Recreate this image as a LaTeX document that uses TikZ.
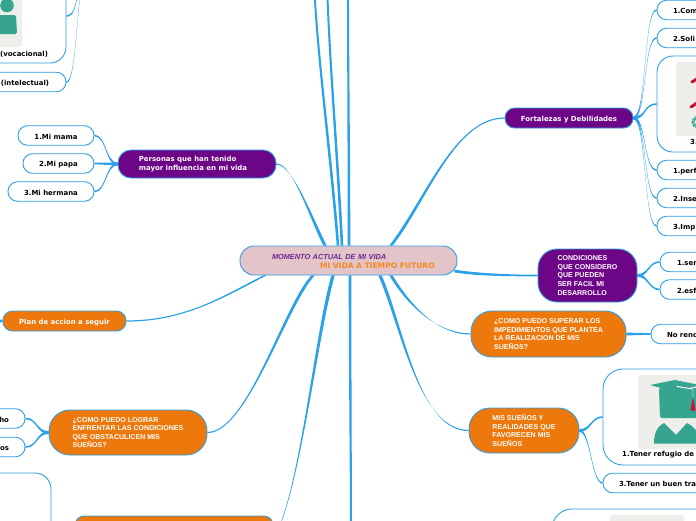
\documentclass[tikz,border=0pt]{standalone}
\usepackage{fontspec}
\setmainfont{DejaVu Sans}
\newfontfamily\libfont{Liberation Sans}
\usetikzlibrary{calc}
\definecolor{edge}{HTML}{2F9FE3}
\definecolor{linkc}{HTML}{2BA2E8}
\definecolor{purp}{HTML}{6C0586}
\definecolor{oran}{HTML}{ED780C}
\definecolor{rose}{HTML}{E3C4C9}
\definecolor{ptext}{HTML}{6B2A90}
\definecolor{otext}{HTML}{F28A1E}
\definecolor{tilec}{HTML}{EEEFEB}
\definecolor{tealc}{HTML}{35A58F}
\definecolor{redt}{HTML}{C8103A}
\newcommand\fdj{\fontsize{6.95}{9}\selectfont\bfseries}
\newcommand\flib{\libfont\fontsize{7.05}{8.6}\selectfont\bfseries}
\newcommand\taper[6]{\fill[linkc] ($#1+#5$) .. controls ($#1+#5+#3$) and ($#2+#6+#4$) .. ($#2+#6$) -- ($#2-#6$) .. controls ($#2-#6+#4$) and ($#1-#5+#3$) .. ($#1-#5$) -- cycle;}
\newcommand\cl[4]{\taper{#1}{#2}{#3}{#4}{(1.7,0)}{(0,.6)}}
\newcommand\cv[4]{\taper{#1}{#2}{#3}{#4}{(1.3,0)}{(.95,0)}}
\newcommand\br[4]{\taper{#1}{#2}{#3}{#4}{(0,1.4)}{(0,.8)}}
\tikzset{
 box/.style={draw=edge,line width=.9pt,inner sep=0pt,align=left,execute at begin node={\rule{0pt}{7.5pt}}},
 leaf/.style={box,fill=white,rounded corners=9.5pt,minimum height=19.5pt,font=\fdj,text=black},
 ppl/.style={box,fill=purp,text=white},
 org/.style={box,fill=oran,text=white},
 bigb/.style={box,fill=white},
 captxt/.style={inner sep=0pt,font=\fdj,text=black},
}
\begin{document}
\begin{tikzpicture}[x=1pt,y=-1pt]
\useasboundingbox (0,0) rectangle (696,520);
\clip (0,0) rectangle (696,520);
\fill[white] (0,0) rectangle (696,520);
% central
\node[box,fill=rose,rounded corners=14pt,minimum width=217pt,minimum height=29pt,inner xsep=10pt,text width=197pt,font=\fontsize{7.35}{9}\selectfont\bfseries] (cen) at (348.5,260.5)
 {{\libfont\itshape\color{ptext}\hspace*{22pt}MOMENTO ACTUAL DE MI VIDA}\\
  {\fontsize{7.6}{9}\selectfont\color{otext}\hspace*{70pt}MI VIDA A TIEMPO FUTURO}};
% branches
\node[ppl,rounded corners=13pt,minimum width=158pt,minimum height=28pt,font=\fdj] (pers) at (197,164) {Personas que han tenido\\mayor influencia en mi vida\hspace*{8pt}};
\node[ppl,rounded corners=9.5pt,minimum width=128pt,minimum height=20pt,font=\fdj] (fort) at (569,118) {Fortalezas y Debilidades};
\node[ppl,rounded corners=19pt,minimum width=99pt,minimum height=53pt,font=\flib] (cond) at (587.5,275.5) {CONDICIONES\\QUE CONSIDERO\\QUE PUEDEN\\SER FACIL MI\\DESARROLLO};
\node[org,rounded corners=21pt,minimum width=155pt,minimum height=46pt,font=\flib] (sup) at (548.5,334) {¿COMO PUEDO SUPERAR LOS\\IMPEDIMIENTOS QUE PLANTEA\\LA REALIZACION DE MIS\\SUEÑOS?};
\node[org,rounded corners=21pt,minimum width=110pt,minimum height=45pt,font=\flib] (mis) at (524,430.5) {MIS SUEÑOS Y\\REALIDADES QUE\\FAVORECEN MIS\\SUEÑOS};
\node[org,rounded corners=9.5pt,minimum width=123pt,minimum height=20pt,font=\fdj] (plan) at (64.5,321) {Plan de accion a seguir};
\node[org,rounded corners=21pt,minimum width=158pt,minimum height=45pt,font=\flib] (log) at (128,432.5) {¿COMO PUEDO LOGRAR\\ENFRENTAR LAS CONDICIONES\\QUE OBSTACULICEN MIS\\SUEÑOS?};
\node[org,rounded corners=9pt,minimum width=198pt,minimum height=48pt] (low) at (174,540) {};
% left leaves
\node[leaf,minimum width=76pt] (mama) at (56,135.5) {1.Mi mama};
\node[leaf,minimum width=71pt] (papa) at (58.5,163.5) {2.Mi papa};
\node[leaf,minimum width=86pt] (herm) at (51,191.5) {3.Mi hermana};
\node[bigb,rounded corners=16pt,minimum width=126pt,minimum height=94pt] (voc) at (3,16) {};
\node[leaf,minimum width=82pt] (inte) at (25,82) {(intelectual)};
\node[leaf,minimum width=65pt,inner xsep=16pt,text width=33pt,align=right] (ho) at (-7.5,418.5) {ho};
\node[leaf,minimum width=65pt,inner xsep=16pt,text width=33pt,align=right] (os) at (-7.5,447) {os};
\node[bigb,rounded corners=16pt,minimum width=111pt,minimum height=90pt] (llow) at (-4.5,518) {};
% right leaves
\node[leaf,minimum width=63pt,inner xsep=16pt,text width=31pt] (com) at (688.5,10) {1.Com};
\node[leaf,minimum width=63pt,inner xsep=16pt,text width=31pt] (sol) at (688.5,38) {2.Soli};
\node[bigb,rounded corners=16pt,minimum width=73pt,minimum height=96pt] (tres) at (693.5,104) {};
\node[leaf,minimum width=63pt,inner xsep=16pt,text width=31pt] (perf) at (688.5,170) {1.perf};
\node[leaf,minimum width=63pt,inner xsep=16pt,text width=31pt] (inse) at (688.5,198) {2.Inse};
\node[leaf,minimum width=63pt,inner xsep=16pt,text width=31pt] (imp) at (688.5,226) {3.Imp};
\node[leaf,minimum width=60pt,inner xsep=17pt,text width=26pt] (ser) at (690,262) {1.ser};
\node[leaf,minimum width=60pt,inner xsep=17pt,text width=26pt] (esf) at (690,289.5) {2.esf};
\node[leaf,minimum width=69pt,inner xsep=16pt,text width=37pt] (nor) at (685.5,334) {No rend};
\node[bigb,rounded corners=20pt,minimum width=127pt,minimum height=96pt] (ref) at (666.5,417) {};
\node[leaf,minimum width=120pt,inner xsep=16pt,text width=88pt] (ten) at (663,483) {3.Tener un buen tra};
\node[bigb,rounded corners=20pt,minimum width=178pt,minimum height=60pt] (blow) at (641,539) {};
% picture tiles and labels
\fill[tilec,rounded corners=3pt] (-30,-20) rectangle (22,47);
\fill[tealc] (7,5.5) circle (6.8);
\fill[tealc,rounded corners=1.5pt] (-6,15) -- (16,15) -- (17,34) -- (-6,34) -- cycle;
\node[captxt,anchor=west] (vocl) at (0,54.5) {(vocacional)};
\fill[tilec,rounded corners=3pt] (676,62) rectangle (720,136);
\draw[redt,line width=3pt,line cap=round] (692,82) -- (700,77);
\draw[redt,line width=3pt,line cap=round] (691,107) -- (700,101);
\draw[tealc,line width=3pt,dash pattern=on 2pt off .8pt] (698,122) circle (5);
\node[captxt,anchor=west] (tresl) at (690,142) {3.};
\fill[tilec,rounded corners=3pt] (638,375) rectangle (730,449);
\fill[tealc] (650,385) -- (675,380) -- (700,385) -- (675,392) -- cycle;
\fill[tealc,rounded corners=2pt] (659,388) -- (700,388) -- (700,418) -- (660,418) -- cycle;
\fill[tealc] (654,443.5) .. controls (654,432) and (658,426) .. (664,423) -- (676,435) -- (687,423) .. controls (693,426) and (700,432) .. (700,443.5) -- cycle;
\draw[white,line width=1pt,line cap=round] (677,386.5) -- (693,389);
\draw[tealc!80!white,line width=1.2pt] (693,389) -- (693,398);
\fill[redt] (693,397) -- (695.5,410.5) -- (690.5,410.5) -- cycle;
\node[captxt,anchor=west] (refl) at (622,455) {1.Tener refugio de};
\fill[tilec,rounded corners=3pt] (610,515) rectangle (684,560);
% named free ends
\coordinate (cU1) at ($(cen.north)+(-23.5,0)$);
\coordinate (cU2) at ($(cen.north)+(-10.5,0)$);
\coordinate (cU3) at ($(cen.north)+(-6.5,0)$);
\coordinate (cU4) at ($(cen.north)+(.5,0)$);
\coordinate (cU5) at ($(cen.north)+(42.5,0)$);
\coordinate (cD1) at ($(cen.south)+(-83.5,0)$);
\coordinate (cD2) at ($(cen.south)+(-35.5,0)$);
\coordinate (cD3) at ($(cen.south)+(-15.5,0)$);
\coordinate (cD4) at ($(cen.south)+(1.5,0)$);
\coordinate (cD5) at ($(cen.south)+(31.5,0)$);
\coordinate (cD6) at ($(cen.south)+(42.5,0)$);
\coordinate (cR1) at ($(cen.east)+(-3,10.5)$);
\coordinate (topA) at (314,-30);
\coordinate (topB) at (327,-30);
\coordinate (topC) at (348,-30);
\coordinate (botA) at (351,560);
\coordinate (tlp) at (84,-40);
\coordinate (plp) at (-12,321);
% links from the central node
\cv{(cU2)}{(topA)}{(-8,-100)}{(0,60)}
\cv{(cU3)}{(topB)}{(-5,-100)}{(0,60)}
\cv{(cU4)}{(topC)}{(0,-100)}{(0,100)}
\cv{(cD4)}{(botA)}{(0,100)}{(0,-100)}
\cl{(cU1)}{(pers.east)}{(-15,-30)}{(16,0)}
\cl{(cU5)}{(fort.west)}{(35,-45)}{(-50,0)}
\br{(cR1)}{(cond.west)}{(25,4)}{(-25,0)}
\cl{(cD6)}{(sup.west)}{(21,35)}{(-30,0)}
\cl{(cD5)}{(mis.west)}{(22,50)}{(-50,0)}
\cl{(cD1)}{(plan.east)}{(-40,20)}{(60,0)}
\cl{(cD2)}{(log.east)}{(-28,30)}{(40,0)}
\cl{(cD3)}{(low.east)}{(-18,65)}{(27,-50)}
% branch links
\br{(pers.west)}{(mama.east)}{(-12,0)}{(12,0)}
\br{(pers.west)}{(papa.east)}{(-12,0)}{(12,0)}
\br{(pers.west)}{(herm.east)}{(-12,0)}{(12,0)}
\br{(fort.east)}{(com.west)}{(13,0)}{(-13,0)}
\br{(fort.east)}{(sol.west)}{(13,0)}{(-13,0)}
\br{(fort.east)}{(tres.west)}{(13,0)}{(-13,0)}
\br{(fort.east)}{(perf.west)}{(13,0)}{(-13,0)}
\br{(fort.east)}{(inse.west)}{(13,0)}{(-13,0)}
\br{(fort.east)}{(imp.west)}{(13,0)}{(-13,0)}
\br{(cond.east)}{(ser.west)}{(11,0)}{(-11,0)}
\br{(cond.east)}{(esf.west)}{(11,0)}{(-11,0)}
\br{(sup.east)}{(nor.west)}{(12,0)}{(-12,0)}
\br{(mis.east)}{(ref.west)}{(11,0)}{(-11,0)}
\br{(mis.east)}{(ten.west)}{(11,0)}{(-11,0)}
\br{(log.west)}{(ho.east)}{(-12,0)}{(12,0)}
\br{(log.west)}{(os.east)}{(-12,0)}{(12,0)}
\br{(plan.west)}{(plp)}{(-5,0)}{(5,0)}
\br{(tlp)}{(voc.east)}{(-8,40)}{(10,0)}
\br{(tlp)}{(inte.east)}{(-8,60)}{(9,0)}
\end{tikzpicture}
\end{document}
